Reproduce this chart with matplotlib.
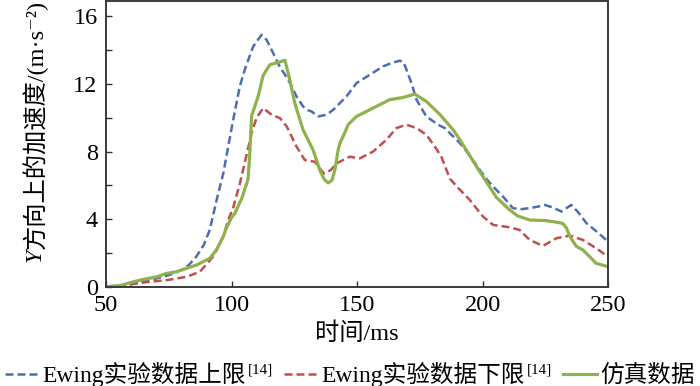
import matplotlib
matplotlib.use("Agg")
import matplotlib.pyplot as plt
from matplotlib.ticker import MultipleLocator

plt.rcParams['font.family'] = ['Liberation Serif', 'Noto Sans CJK SC', 'DejaVu Serif']

# Ewing 实验数据上限
t_up = [50, 55, 60, 65, 70, 75, 80, 83, 86, 89, 91.4, 94, 96.7, 98.7, 100.7, 103.3, 105.3,
        108.6, 110.5, 112, 114, 116, 119.3, 122.6, 125.9, 128.5, 130.5, 131.9, 134.5, 137.9,
        140.5, 145.8, 149.8, 155.1, 160.4, 164, 167, 168.5, 169.7, 171.7, 173.7, 177.6, 182.3,
        185, 188.3, 191, 194.5, 198.9, 202, 205.5, 208.2, 212.1, 215.5, 218.8, 222, 224.8, 228,
        231.4, 235.4, 238.5, 241.4, 245.3, 249.3, 250]
v_up = [0, 0.05, 0.15, 0.3, 0.5, 0.7, 1.0, 1.3, 1.8, 2.5, 3.4, 5.1, 6.7, 8.3, 9.9, 11.85, 12.85,
        14.2, 14.6, 14.9, 14.6, 14.0, 13.0, 12.25, 11.26, 10.67, 10.45, 10.37, 10.08, 10.18,
        10.47, 11.26, 12.05, 12.54, 13.04, 13.25, 13.37, 13.3, 12.84, 12.05, 11.07, 10.08, 9.59,
        9.39, 8.9, 8.5, 7.85, 6.92, 6.3, 5.74, 5.34, 4.66, 4.6, 4.66, 4.75, 4.85, 4.7,
        4.46, 4.85, 4.35, 3.77, 3.3, 2.78, 2.7]

# Ewing 实验数据下限
t_lo = [50, 55, 60.8, 67, 74, 82, 87.4, 92.7, 96.7, 98.7, 100.7, 103.3, 106, 108, 110, 112.6,
        116, 119.3, 122, 125.9, 129.2, 133.2, 136.8, 139.5, 141.8, 147.1, 151.1, 156.4, 161.7,
        165.7, 169.7, 173.7, 177.6, 181, 183.6, 187, 190, 194.9, 200.2, 204.2, 210.8, 214.8,
        218.8, 224.1, 229.4, 234.7, 240, 245.3, 250]
v_lo = [0, 0.05, 0.2, 0.3, 0.4, 0.6, 0.9, 1.8, 2.98, 3.96, 4.7, 6.1, 7.8, 9.1, 10.0, 10.57,
        10.18, 9.98, 9.49, 8.3, 7.5, 7.4, 6.7, 6.9, 7.3, 7.7, 7.6, 8.0, 8.7,
        9.39, 9.59, 9.39, 9.0, 8.3, 7.7, 6.4, 5.9, 5.15, 4.16, 3.67, 3.53, 3.37,
        2.78, 2.43, 2.88, 3.04, 2.78, 2.29, 1.79]

# 仿真数据
t_sim = [50, 52, 56, 60.9, 65, 70.2, 74, 78.1, 82, 86.1, 91.4, 94, 96.7, 98, 100, 101.4, 103.3,
         104, 106, 106.6, 107.3, 108, 110.6, 112.6, 115.3, 118.6, 121.3, 123.2, 125.2, 128.5,
         132.5, 135.2, 137, 138.5, 140, 141.2, 142.5, 143.2, 145.1, 146.5, 149.8, 156.4, 163,
         168.4, 173, 177.6, 183, 188.3, 191, 197.6, 205.5, 210.8, 214, 218.8, 225.4, 230.7,
         232, 233.4, 234.8, 237.4, 240, 242.7, 245.3, 250]
v_sim = [0, 0.05, 0.1, 0.31, 0.45, 0.6, 0.8, 0.9, 1.1, 1.3, 1.7, 2.19, 2.98, 3.5, 4.1, 4.36, 5.0,
         5.2, 6.1, 6.4, 7.9, 10.1, 11.26, 12.5, 13.14, 13.27, 13.4, 12.25, 10.87, 9.29,
         8.1, 6.9, 6.35, 6.15, 6.3, 6.92, 8.1, 8.5, 9.1, 9.6, 10.08, 10.57, 11.07,
         11.2, 11.4, 10.97, 10.2, 9.29, 8.7, 7.12, 5.3, 4.56, 4.2, 3.96, 3.92, 3.8,
         3.75, 3.5, 2.98, 2.4, 2.19, 1.79, 1.4, 1.2]

labels = ["Ewing实验数据上限", "Ewing实验数据下限", "仿真数据"]
ref_mark = "[14]"
x_ticks = [50, 100, 150, 200, 250]
y_ticks = [0, 4, 8, 12, 16]

c_up, c_lo, c_sim = "#4D6EB0", "#C0504D", "#8FB24E"

fig = plt.figure(figsize=(7, 3.86), dpi=100)
ax = fig.add_axes([106 / 700, 1 - 287 / 386, 502 / 700, 286 / 386])

ax.plot(t_up, v_up, color=c_up, lw=1.8, dashes=(3.2, 1.6), label=labels[0])
ax.plot(t_lo, v_lo, color=c_lo, lw=1.8, dashes=(3.2, 1.6), label=labels[1])
ax.plot(t_sim, v_sim, color=c_sim, lw=2.3, label=labels[2])

ax.set_xlim(50, 250)
ax.set_ylim(0, 16.9)
ax.set_xticks(x_ticks)
ax.set_yticks(y_ticks)
ax.yaxis.set_minor_locator(MultipleLocator(2))
ax.tick_params(which='both', direction='in', length=4.5, width=1, color='#333333',
               labelsize=17.5)
ax.tick_params(axis='x', pad=6)
ax.tick_params(axis='y', pad=6)
for s in ax.spines.values():
    s.set_color('#3a3a3a')
    s.set_linewidth(1.4)

fig.text(0.51, 0.135, "时间/ms", ha='center', va='center', fontsize=17.5)

# y 轴标题: 斜体 Y + 其余部分
y0 = 1 - 249 / 386
fig.text(0.05, y0, "Y", rotation=90, ha='center', va='top', fontsize=17.5, style='italic')
fig.text(0.05, y0, "方向上的加速度/(m·s⁻²)", rotation=90, ha='center', va='bottom', fontsize=17.5)

leg = fig.legend(loc='center', bbox_to_anchor=(0.5, 0.03), ncol=3, frameon=False, fontsize=17,
                 handlelength=1.45, handletextpad=0.15, columnspacing=1.6, borderpad=0,
                 borderaxespad=0)

# 图例中的文献上标
fig.canvas.draw()
renderer = fig.canvas.get_renderer()
inv = fig.transFigure.inverted()
for txt in leg.get_texts()[:2]:
    bb = txt.get_window_extent(renderer)
    x, y = inv.transform((bb.x1 + 2, bb.y1 - 2))
    fig.text(x, y, ref_mark, fontsize=11, ha='left', va='top')

plt.savefig("out.png", dpi=100)
plt.close()
